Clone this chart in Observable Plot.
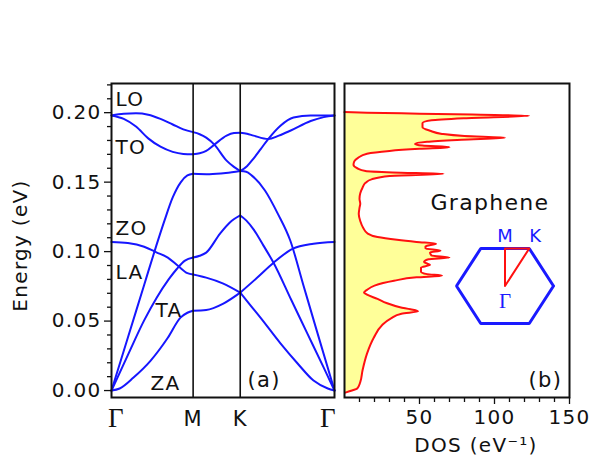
<!DOCTYPE html>
<html><head><meta charset="utf-8">
<script src="https://cdn.jsdelivr.net/npm/d3@7"></script>
<script src="https://cdn.jsdelivr.net/npm/@observablehq/plot@0.6"></script>
<style>
body{margin:0;background:#fff;}
#fig{position:relative;width:592px;height:459px;overflow:hidden;background:#fff;}
</style></head><body><div id="fig"></div>
<script>
// ---- k-path (units of 2π/(√3a)): Γ – M – K – Γ
const kTicks = [0, 1, 1.577, 2.732];
const kTickLabels = ["Γ", "M", "K", "Γ"];
const energyTicks = [0, 0.05, 0.10, 0.15, 0.20];
const energyMinor = [0.01,0.02,0.03,0.04,0.06,0.07,0.08,0.09,0.11,0.12,0.13,0.14,0.16,0.17,0.18,0.19,0.21,0.22];
const dosTicks = [50, 100, 150];
const dosMinor = [10,20,30,40,60,70,80,90,110,120,130,140];

// ---- phonon branches [k, E (eV)]
const GM_LO = [[0,0.198],[0.15,0.1992],[0.3,0.1995],[0.45,0.1985],[0.6,0.1955],[0.75,0.1915],[0.88,0.188],[1,0.186]];
const GM_TO = [[0,0.198],[0.15,0.1955],[0.3,0.190],[0.45,0.1815],[0.6,0.1755],[0.75,0.1718],[0.88,0.1703],[1,0.170]];
const GM_LA = [[0,0],[0.2,0.038],[0.4,0.076],[0.55,0.1045],[0.65,0.1225],[0.75,0.139],[0.85,0.150],[0.93,0.1548],[1,0.156]];
const GM_TA = [[0,0],[0.2,0.0255],[0.4,0.0505],[0.55,0.0665],[0.7,0.080],[0.8,0.0875],[0.9,0.0935],[1,0.0957]];
const GM_ZO = [[0,0.107],[0.2,0.1062],[0.4,0.1035],[0.55,0.0995],[0.69,0.0957],[0.81,0.090],[0.93,0.0845],[1,0.0835]];
const GM_ZA = [[0,0],[0.1,0.0015],[0.27,0.0094],[0.48,0.0216],[0.69,0.038],[0.845,0.0525],[0.93,0.056],[1,0.0575]];

const MK_1  = [[1,0.186],[1.08,0.1845],[1.16,0.182],[1.26,0.177],[1.41,0.1655],[1.5,0.161],[1.577,0.158]];
const MK_2  = [[1,0.170],[1.08,0.1708],[1.16,0.1725],[1.26,0.177],[1.41,0.1835],[1.5,0.1853],[1.577,0.1855]];
const MK_LA = [[1,0.156],[1.2,0.1557],[1.4,0.1565],[1.577,0.158]];
const MK_TA = [[1,0.0957],[1.08,0.097],[1.16,0.0993],[1.33,0.113],[1.45,0.121],[1.577,0.126]];
const MK_ZO = [[1,0.0835],[1.16,0.0813],[1.37,0.077],[1.577,0.0705]];
const MK_ZA = [[1,0.0575],[1.16,0.058],[1.37,0.0626],[1.577,0.0705]];

const KG_1  = [[1.577,0.1855],[1.66,0.1848],[1.74,0.1835],[1.92,0.181],[2.05,0.1835],[2.19,0.187],[2.44,0.194],[2.6,0.1968],[2.732,0.198]];
const KG_2  = [[1.577,0.158],[1.66,0.1615],[1.74,0.167],[1.83,0.174],[1.92,0.181],[2.07,0.1906],[2.23,0.1965],[2.44,0.198],[2.732,0.198]];
const KG_LA = [[1.577,0.158],[1.65,0.1575],[1.72,0.1547],[1.88,0.144],[2.04,0.127],[2.19,0.108],[2.35,0.076],[2.5,0.046],[2.732,0]];
const KG_TA = [[1.577,0.126],[1.65,0.1225],[1.74,0.116],[1.86,0.1045],[1.985,0.092],[2.2,0.0655],[2.4,0.041],[2.6,0.0165],[2.732,0]];
const KG_ZO = [[1.577,0.0705],[1.78,0.081],[1.985,0.092],[2.217,0.102],[2.475,0.1057],[2.732,0.107]];
const KG_ZA = [[1.577,0.0705],[1.7,0.0615],[1.825,0.0525],[2.07,0.034],[2.28,0.0195],[2.475,0.0072],[2.65,0.0015],[2.732,0]];

// ---- branch name labels [text, k, E]
const branchLabels = [["LO",0.049,0.2094],["TO",0.049,0.1748],["ZO",0.049,0.1165],["LA",0.049,0.0849],["TA",0.539,0.0576],["ZA",0.478,0.005]];

// ---- phonon density of states [E (eV), DOS (1/eV)]
const dos = [
[-0.0015,0.5],[0.0,5],[0.0015,8.5],[0.006,10.5],[0.0144,12],[0.0266,15],[0.038,19.5],[0.047,25],[0.052,31],
[0.0553,38],[0.057,49],[0.0585,44],[0.060,37],[0.063,28],[0.066,22],[0.069,15],[0.0705,13],[0.0725,15],
[0.0755,20],[0.079,33],[0.0815,48],[0.0827,65],[0.0838,55],[0.0855,51],[0.0885,51],[0.0905,57],[0.0925,53],
[0.0945,56],[0.0957,70],[0.0972,58],[0.0993,57],[0.1007,64],[0.1022,54],[0.1038,54],[0.1057,61],[0.107,48],
[0.1085,35],[0.1105,22],[0.113,15.5],[0.117,12.5],[0.122,10.5],[0.127,9.5],[0.1315,10],[0.1345,10.5],[0.138,10],
[0.142,10.5],[0.146,12],[0.1495,14],[0.152,18],[0.1545,30],[0.156,66],[0.157,32],[0.158,14],[0.160,8.5],
[0.1625,6],[0.165,6.5],[0.1675,9],[0.1705,15],[0.1725,30],[0.174,50],[0.1752,70],[0.1763,52],[0.1775,47],
[0.179,55],[0.1805,78],[0.182,107],[0.1832,80],[0.1847,65],[0.187,57],[0.1895,52],[0.1925,52],[0.1945,58],
[0.196,80],[0.1978,123],[0.1986,85],[0.1993,50],[0.2000,15],[0.2004,0]
];

// ---- Brillouin-zone inset (unit hexagon)
const bzHexagon = [[1,0],[0.5,0.866],[-0.5,0.866],[-1,0],[-0.5,-0.866],[0.5,-0.866],[1,0]];
const bzPath = [[0,0],[0,0.866],[0.5,0.866],[0,0]];
const bzLabels = [["M",0,0.866],["K",0.62,0.866]];
const bzCenterLabel = [["Γ",0,0]];

// ---- build tables
const branches = [GM_LO,GM_TO,GM_LA,GM_TA,GM_ZO,GM_ZA,MK_1,MK_2,MK_LA,MK_TA,MK_ZO,MK_ZA,KG_1,KG_2,KG_LA,KG_TA,KG_ZO,KG_ZA];
const bandRows = branches.flatMap((b, i) => b.map(([k, E]) => ({id: i, k, E})));
const dosRows = dos.map(([E, D]) => ({E, D}));

const sans = "DejaVu Sans";
const serif = "Liberation Serif";
const baseStyle = {fontFamily: sans, fontSize: "20px", letterSpacing: "1.3px", background: "transparent", overflow: "visible", color: "#111"};
const eDomain = [-0.005, 0.221];
const fig = document.getElementById("fig");

const panelA = Plot.plot({
  width: 340, height: 459, marginLeft: 111, marginRight: 6, marginTop: 83, marginBottom: 62,
  style: baseStyle,
  x: {domain: [kTicks[0], kTicks[3]], axis: null},
  y: {domain: eDomain},
  marks: [
    Plot.line(bandRows, {x: "k", y: "E", z: "id", stroke: "#1616ff", strokeWidth: 2, curve: "monotone-x"}),
    Plot.ruleX([kTicks[1], kTicks[2]], {stroke: "#111", strokeWidth: 1.6}),
    Plot.frame({stroke: "#111", strokeWidth: 2}),
    Plot.axisY({ticks: energyMinor, tickSize: 4, tickFormat: () => "", label: null, strokeWidth: 1.3}),
    Plot.axisY({ticks: energyTicks, tickSize: 7, tickPadding: 3, tickFormat: d3.format(".2f"), label: null, strokeWidth: 1.3}),
    Plot.text(branchLabels, {x: d => d[1], y: d => d[2], text: d => d[0], textAnchor: "start", lineAnchor: "middle", fontSize: 20}),
    Plot.text(["(a)"], {x: () => 1.666, y: () => 0.0072, text: d => d, textAnchor: "start", lineAnchor: "middle", fontSize: 21}),
    Plot.text([1, 2], {x: i => kTicks[i], text: i => kTickLabels[i], frameAnchor: "bottom", lineAnchor: "middle", textAnchor: "middle", dy: 22, fontSize: 21}),
    Plot.text([0], {x: i => kTicks[i], text: i => kTickLabels[i], frameAnchor: "bottom", lineAnchor: "middle", textAnchor: "middle", dx: 5, dy: 21, fontSize: 27, fontFamily: serif}),
    Plot.text([3], {x: i => kTicks[i], text: i => kTickLabels[i], frameAnchor: "bottom", lineAnchor: "middle", textAnchor: "middle", dx: -6, dy: 21, fontSize: 27, fontFamily: serif}),
    Plot.text(["Energy (eV)"], {text: d => d, frameAnchor: "left", textAnchor: "middle", lineAnchor: "middle", rotate: -90, dx: -91, dy: 5, fontSize: 20})
  ]
});

const panelB = Plot.plot({
  width: 252, height: 459, marginLeft: 4, marginRight: 23, marginTop: 83, marginBottom: 62,
  style: baseStyle,
  x: {domain: [0, 150]},
  y: {domain: eDomain, axis: null},
  marks: [
    Plot.areaX(dosRows, {y: "E", x1: 0, x2: "D", fill: "#ffff99", curve: "monotone-y"}),
    Plot.line(dosRows, {x: "D", y: "E", stroke: "#ff1010", strokeWidth: 2, curve: "monotone-y"}),
    Plot.frame({stroke: "#111", strokeWidth: 2}),
    Plot.axisX({ticks: dosMinor, tickSize: 5, tickFormat: () => "", label: null, strokeWidth: 1.3}),
    Plot.axisX({ticks: dosTicks, tickSize: 7, tickPadding: 5, tickFormat: d3.format("d"), label: null, strokeWidth: 1.3}),
    Plot.text(["DOS (eV⁻¹)"], {text: d => d, frameAnchor: "bottom", textAnchor: "middle", lineAnchor: "middle", dx: 19, dy: 48, fontSize: 20}),
    Plot.text(["(b)"], {x: () => 122.7, y: () => 0.0072, text: d => d, textAnchor: "start", lineAnchor: "middle", fontSize: 21}),
    Plot.text(["Graphene"], {x: () => 57.3, y: () => 0.1353, text: d => d, textAnchor: "start", lineAnchor: "middle", fontSize: 22})
  ]
});

const inset = Plot.plot({
  width: 130, height: 120, marginLeft: 16, marginRight: 17, marginTop: 33, marginBottom: 12,
  style: {fontFamily: sans, background: "transparent", overflow: "visible"},
  x: {domain: [-1, 1], axis: null},
  y: {domain: [-0.866, 0.866], axis: null},
  marks: [
    Plot.line(bzHexagon, {x: d => d[0], y: d => d[1], stroke: "#1a1aff", strokeWidth: 3, strokeLinejoin: "miter"}),
    Plot.line(bzPath, {x: d => d[0], y: d => d[1], stroke: "#ff1010", strokeWidth: 2}),
    Plot.text(bzLabels, {x: d => d[1], y: d => d[2], text: d => d[0], dy: -12, fill: "#1a1aff", fontSize: 18}),
    Plot.text(bzCenterLabel, {x: d => d[1], y: d => d[2], text: d => d[0], dy: 15, fill: "#1a1aff", fontSize: 21, fontFamily: serif})
  ]
});

for (const [el, left, top] of [[panelA, 0, 0], [panelB, 340, 0], [inset, 440, 215]]) {
  el.style.position = "absolute";
  el.style.left = left + "px";
  el.style.top = top + "px";
  fig.appendChild(el);
}
</script>
</body></html>
